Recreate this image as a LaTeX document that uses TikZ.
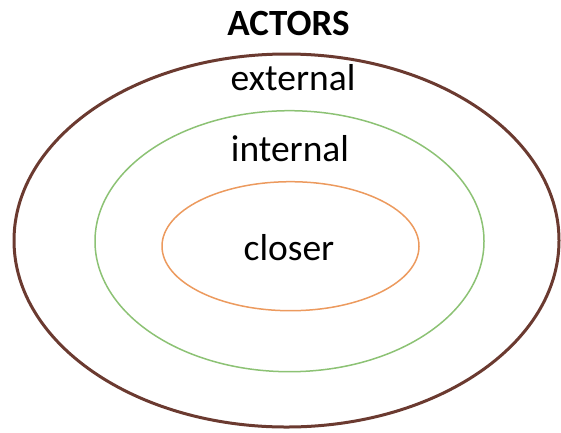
\documentclass[tikz,border=0pt]{standalone}
\usepackage{fontspec}
\setmainfont{Carlito}
\definecolor{outerc}{HTML}{6B3A30}
\definecolor{midc}{HTML}{8CC274}
\definecolor{innc}{HTML}{EC9A5E}
\begin{document}
\begin{tikzpicture}[x=1pt,y=-1pt,
  lbl/.style={anchor=base,inner sep=0pt,font=\fontsize{37.5}{40}\selectfont}]
\useasboundingbox (0,0) rectangle (561,432);
\draw[outerc,line width=3pt] (286.5,240.5) ellipse [x radius=272.5, y radius=186.5];
\draw[midc,line width=1.5pt] (289.5,241.2) ellipse [x radius=194.5, y radius=130.5];
\draw[innc,line width=1.5pt] (290.5,246.2) ellipse [x radius=128.5, y radius=64.5];
\node[lbl,font=\fontsize{37}{40}\selectfont\bfseries] (title) at (288.5,35) {ACTORS};
\node[lbl] (ext) at (293,90) {external};
\node[lbl] (int) at (290,161.7) {internal};
\node[lbl] (clo) at (289,260) {closer};
\end{tikzpicture}
\end{document}
